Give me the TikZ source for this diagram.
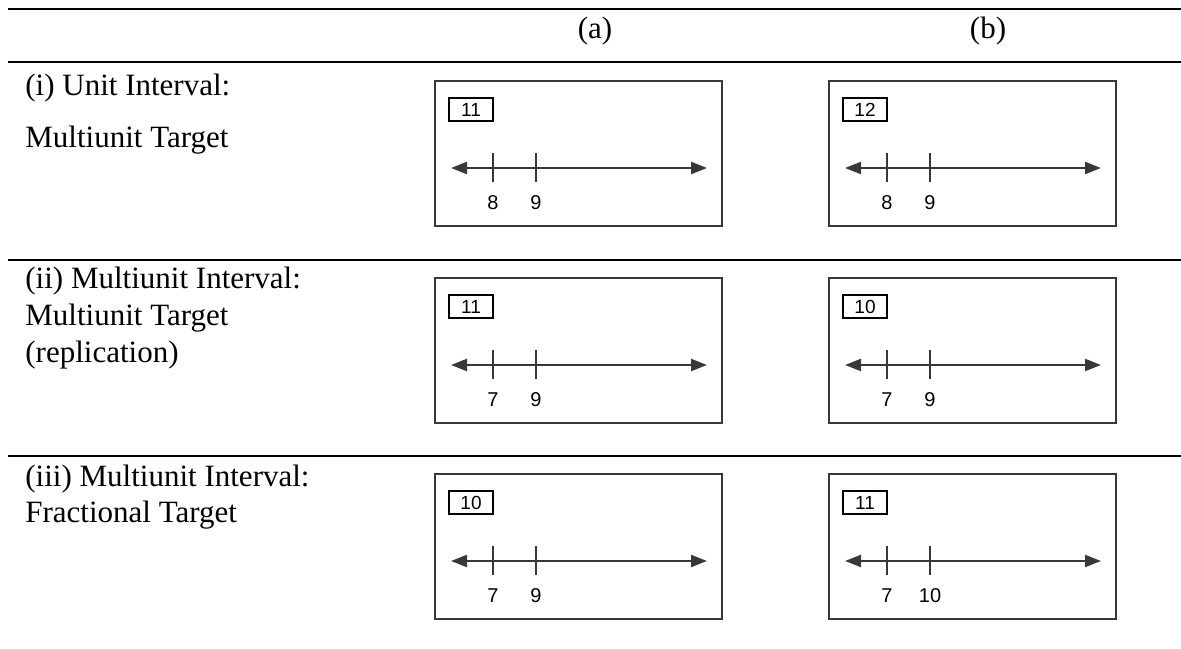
\documentclass[tikz,border=0pt]{standalone}
\usepackage{fontspec}
\setmainfont{Liberation Serif}
\newfontfamily\panelfont{Liberation Sans}
\usetikzlibrary{arrows.meta, positioning}
\definecolor{lineGrey}{HTML}{383838}
\tikzset{
  tablerule/.style = {line width=1.3pt, black},
  hdr/.style       = {font=\fontsize{15.5}{18}\selectfont},
  rowlbl/.style    = {font=\fontsize{15.5}{18}\selectfont, anchor=base west, inner sep=0pt},
  panelbox/.style  = {draw=lineGrey, line width=0.9pt, minimum width=143.5pt,
                      minimum height=72.5pt, inner sep=0pt},
  targetbox/.style = {draw=black, line width=0.6pt, minimum width=22pt, minimum height=11.5pt,
                      inner sep=0pt, font=\panelfont\fontsize{9.5}{10}\selectfont},
  numline/.style   = {{Triangle[length=8pt, width=6pt]}-{Triangle[length=8pt, width=6pt]},
                      line width=1.1pt, lineGrey},
  tickmark/.style  = {line width=1.1pt, lineGrey},
  ticklbl/.style   = {font=\panelfont\fontsize{10}{11}\selectfont, inner sep=0pt},
}
\begin{document}
\begin{tikzpicture}[x=0.5pt, y=-0.5pt]
  \useasboundingbox (0,0) rectangle (1181,648);
  % table rules
  \foreach \r in {9,62,260,456} \draw[tablerule] (8,\r) -- (1181,\r);
  % column heads
  \node[hdr] (hA) at (595,31) {(a)};
  \node[hdr] (hB) at (988,31) {(b)};
  % row labels
  \node[rowlbl] (ri1) at (25,95) {(i) Unit Interval:};
  \node[rowlbl] (ri2) at (25,147) {Multiunit Target};
  \node[rowlbl] (rii1) at (25,288) {(ii) Multiunit Interval:};
  \node[rowlbl] (rii2) at (25,325) {Multiunit Target};
  \node[rowlbl] (rii3) at (25,362) {(replication)};
  \node[rowlbl] (riii1) at (25,486) {(iii) Multiunit Interval:};
  \node[rowlbl] (riii2) at (25,522) {Fractional Target};
  % panels: name/left/top/target/first tick/second tick
  \foreach \n/\x/\y/\t/\p/\q in {ia/435/81/11/8/9, ib/829/81/12/8/9,
                                 iia/435/278/11/7/9, iib/829/278/10/7/9,
                                 iiia/435/474/10/7/9, iiib/829/474/11/7/10} {
    \begin{scope}[shift={(\x,\y)}]
      \node[panelbox] (box-\n) at (143.5,72.5) {};
      \node[targetbox] (tgt-\n) at (36,28.5) {\t};
      \coordinate (lo-\n) at (16,87);
      \coordinate (hi-\n) at (272,87);
      \draw[numline] (lo-\n) -- (hi-\n);
      \draw[tickmark] (58,72) -- (58,101);
      \draw[tickmark] (101,72) -- (101,101);
      \node[ticklbl] (p-\n) at (58,122) {\p};
      \node[ticklbl] (q-\n) at (101,122) {\q};
    \end{scope}
  }
\end{tikzpicture}
\end{document}
